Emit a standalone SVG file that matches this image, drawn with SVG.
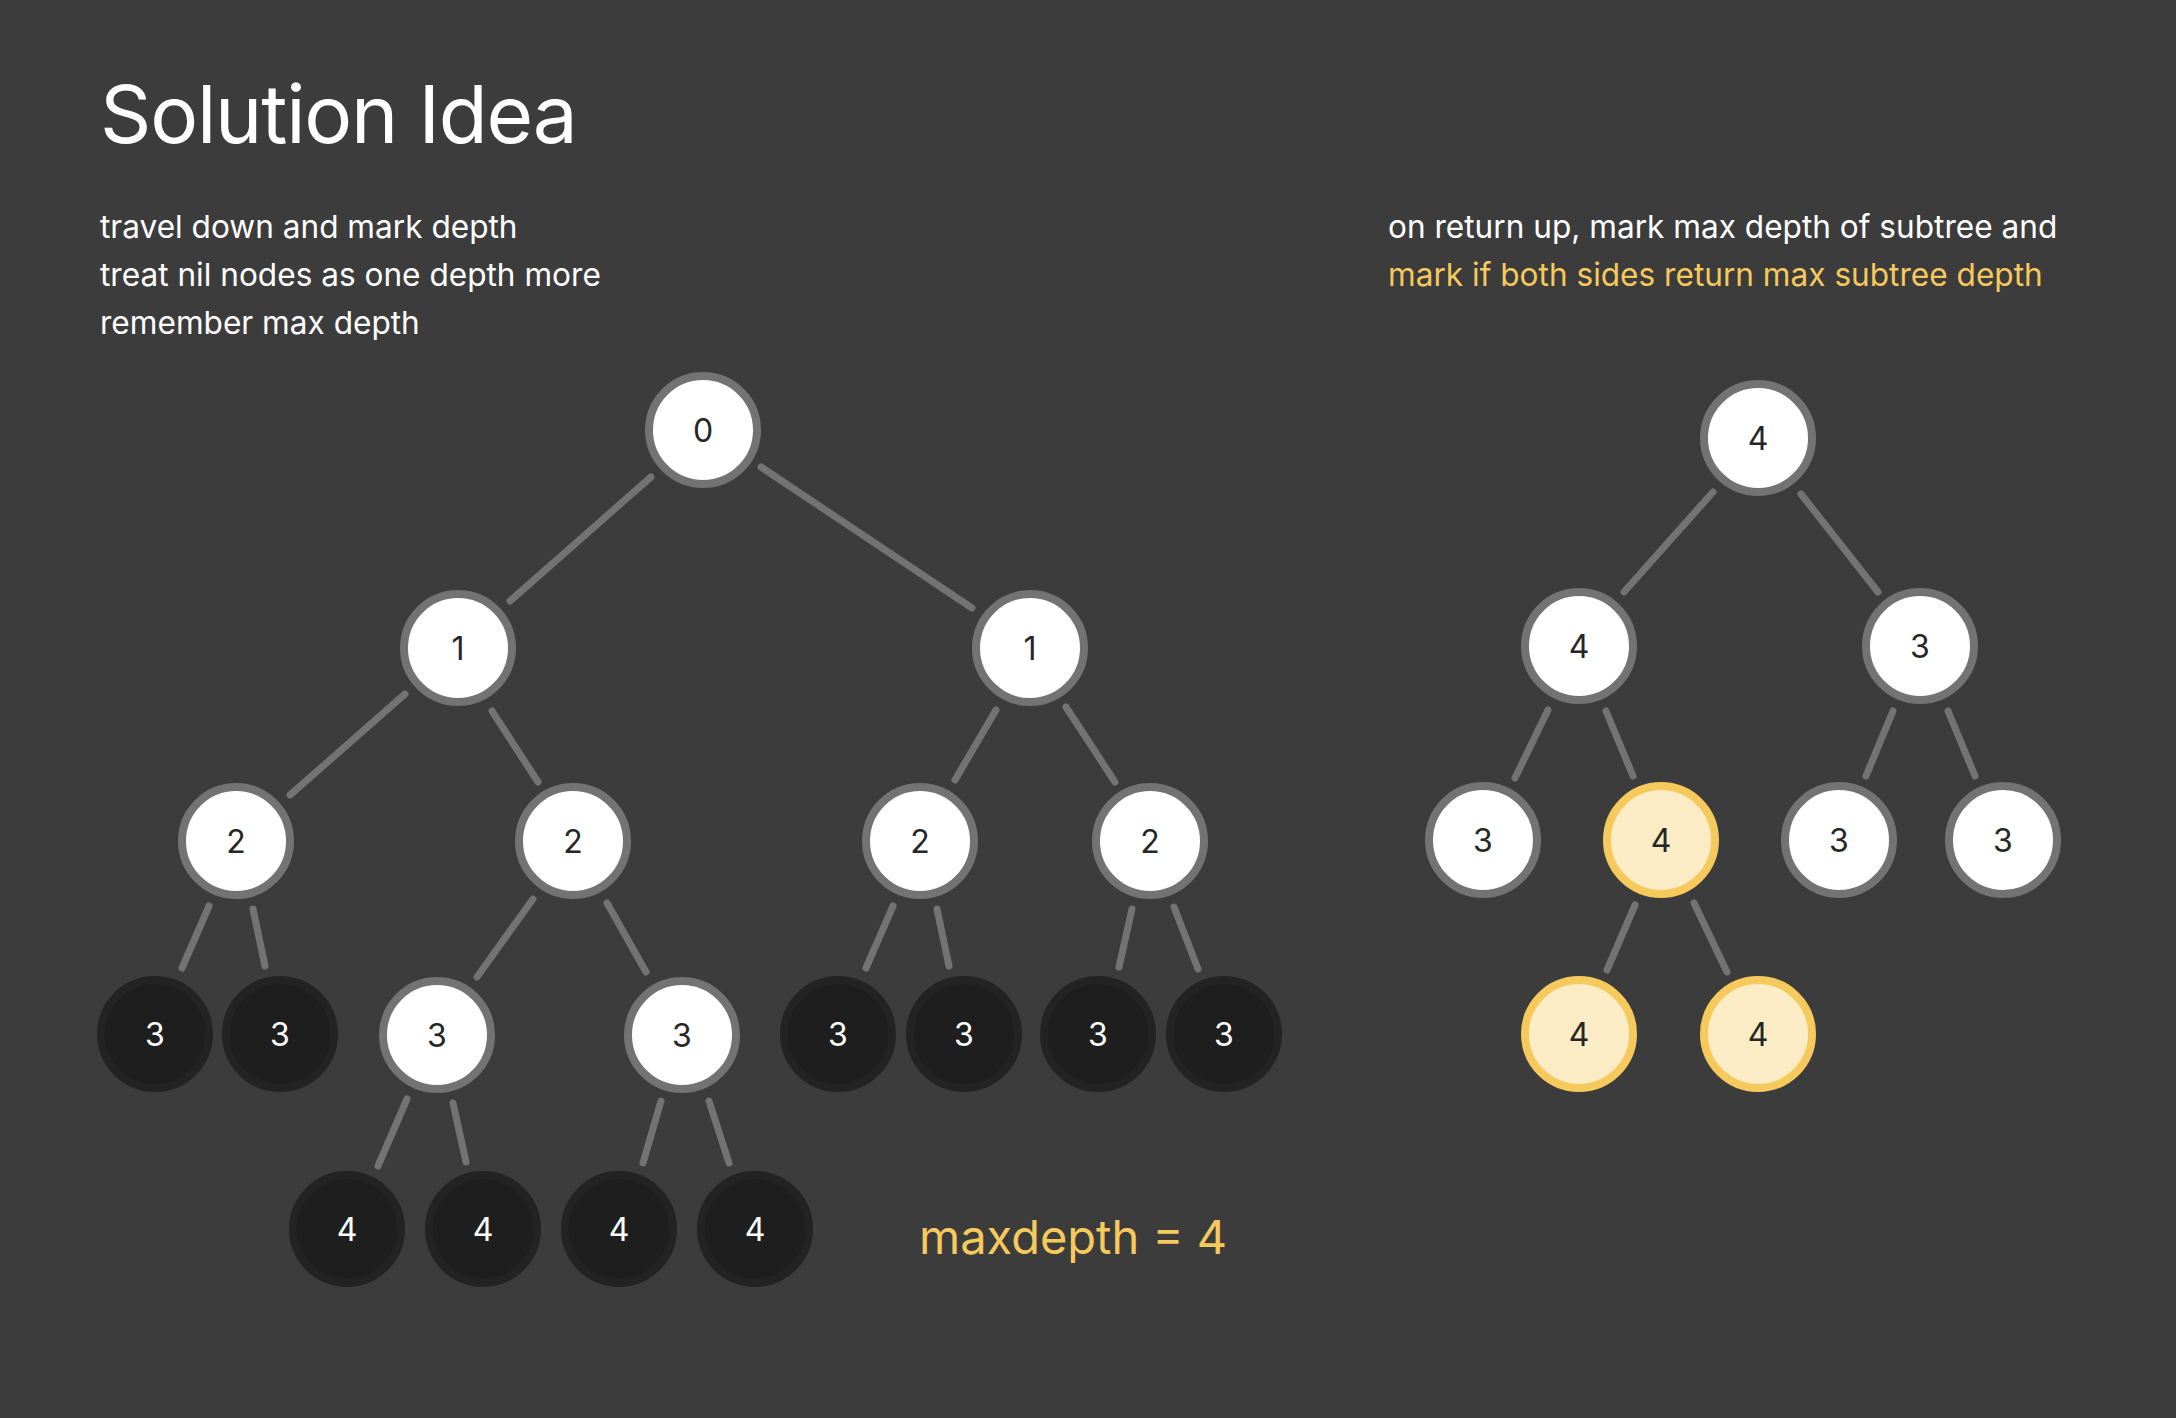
<svg xmlns="http://www.w3.org/2000/svg" width="2176" height="1418" viewBox="0 0 2176 1418">
<style>
.bg{fill:#3c3c3c}
.edge{stroke:#737373;stroke-width:7;stroke-linecap:round;fill:none}
.w circle{fill:#ffffff;stroke:#737373;stroke-width:8}
.d circle{fill:#1e1e1e;stroke:#232323;stroke-width:8}
.y circle{fill:#fbecc5;stroke:#f5c95c;stroke-width:8}
.w text,.y text{fill:#262626}
.d text{fill:#ffffff}
.n text{font-family:Inter,"Noto Sans",sans-serif;font-size:32px;text-anchor:middle;dominant-baseline:central}
.t{font-family:Inter,"Noto Sans",sans-serif;fill:#ffffff}
.g{fill:#f5c95c}
</style>
<rect class="bg" x="0" y="0" width="2176" height="1418"/>
<text class="t" x="100" y="143" font-size="80" letter-spacing="-1.2">Solution Idea</text>
<g class="t" font-size="31.6">
<text x="100" y="238">travel down and mark depth</text>
<text x="100" y="286">treat nil nodes as one depth more</text>
<text x="100" y="334">remember max depth</text>
</g>
<g class="t" font-size="31.6">
<text x="1388" y="238">on return up, mark max depth of subtree and</text>
<text x="1388" y="286" class="g">mark if both sides return max subtree depth</text>
</g>
<text class="t g" x="919" y="1254" font-size="47">maxdepth = 4</text>
<g id="connectors">
<line class="edge" x1="651" y1="477" x2="510" y2="601"/>
<line class="edge" x1="761" y1="467" x2="972" y2="608"/>
<line class="edge" x1="405" y1="694" x2="290" y2="795"/>
<line class="edge" x1="492" y1="711" x2="538" y2="782"/>
<line class="edge" x1="996" y1="710" x2="955" y2="780"/>
<line class="edge" x1="1066" y1="707" x2="1115" y2="782"/>
<line class="edge" x1="209" y1="906" x2="182" y2="968"/>
<line class="edge" x1="253" y1="909" x2="265" y2="966"/>
<line class="edge" x1="533" y1="899" x2="477" y2="977"/>
<line class="edge" x1="607" y1="903" x2="646" y2="972"/>
<line class="edge" x1="893" y1="906" x2="866" y2="968"/>
<line class="edge" x1="937" y1="909" x2="949" y2="966"/>
<line class="edge" x1="1132" y1="909" x2="1119" y2="967"/>
<line class="edge" x1="1174" y1="907" x2="1198" y2="969"/>
<line class="edge" x1="407" y1="1099" x2="378" y2="1166"/>
<line class="edge" x1="453" y1="1103" x2="466" y2="1162"/>
<line class="edge" x1="661" y1="1101" x2="643" y2="1163"/>
<line class="edge" x1="709" y1="1101" x2="729" y2="1163"/>
<line class="edge" x1="1713" y1="492" x2="1624" y2="592"/>
<line class="edge" x1="1801" y1="494" x2="1878" y2="592"/>
<line class="edge" x1="1548" y1="710" x2="1515" y2="778"/>
<line class="edge" x1="1606" y1="711" x2="1633" y2="776"/>
<line class="edge" x1="1893" y1="711" x2="1866" y2="776"/>
<line class="edge" x1="1948" y1="711" x2="1975" y2="776"/>
<line class="edge" x1="1635" y1="905" x2="1607" y2="970"/>
<line class="edge" x1="1694" y1="903" x2="1727" y2="972"/>
</g>
<g class="n">
<g id="n0" class="w"><circle cx="703" cy="430" r="54"/><text x="703" y="430">0</text></g>
<g id="n1a" class="w"><circle cx="458" cy="648" r="54"/><text x="458" y="648">1</text></g>
<g id="n1b" class="w"><circle cx="1030" cy="648" r="54"/><text x="1030" y="648">1</text></g>
<g id="n2a" class="w"><circle cx="236" cy="841" r="54"/><text x="236" y="841">2</text></g>
<g id="n2b" class="w"><circle cx="573" cy="841" r="54"/><text x="573" y="841">2</text></g>
<g id="n2c" class="w"><circle cx="920" cy="841" r="54"/><text x="920" y="841">2</text></g>
<g id="n2d" class="w"><circle cx="1150" cy="841" r="54"/><text x="1150" y="841">2</text></g>
<g id="n3a" class="d"><circle cx="155" cy="1034" r="54"/><text x="155" y="1034">3</text></g>
<g id="n3b" class="d"><circle cx="280" cy="1034" r="54"/><text x="280" y="1034">3</text></g>
<g id="n3c" class="w"><circle cx="437" cy="1035" r="54"/><text x="437" y="1035">3</text></g>
<g id="n3d" class="w"><circle cx="682" cy="1035" r="54"/><text x="682" y="1035">3</text></g>
<g id="n3e" class="d"><circle cx="838" cy="1034" r="54"/><text x="838" y="1034">3</text></g>
<g id="n3f" class="d"><circle cx="964" cy="1034" r="54"/><text x="964" y="1034">3</text></g>
<g id="n3g" class="d"><circle cx="1098" cy="1034" r="54"/><text x="1098" y="1034">3</text></g>
<g id="n3h" class="d"><circle cx="1224" cy="1034" r="54"/><text x="1224" y="1034">3</text></g>
<g id="n4a" class="d"><circle cx="347" cy="1229" r="54"/><text x="347" y="1229">4</text></g>
<g id="n4b" class="d"><circle cx="483" cy="1229" r="54"/><text x="483" y="1229">4</text></g>
<g id="n4c" class="d"><circle cx="619" cy="1229" r="54"/><text x="619" y="1229">4</text></g>
<g id="n4d" class="d"><circle cx="755" cy="1229" r="54"/><text x="755" y="1229">4</text></g>
<g id="r0" class="w"><circle cx="1758" cy="438" r="54"/><text x="1758" y="438">4</text></g>
<g id="r1a" class="w"><circle cx="1579" cy="646" r="54"/><text x="1579" y="646">4</text></g>
<g id="r1b" class="w"><circle cx="1920" cy="646" r="54"/><text x="1920" y="646">3</text></g>
<g id="r2a" class="w"><circle cx="1483" cy="840" r="54"/><text x="1483" y="840">3</text></g>
<g id="r2b" class="y"><circle cx="1661" cy="840" r="54"/><text x="1661" y="840">4</text></g>
<g id="r2c" class="w"><circle cx="1839" cy="840" r="54"/><text x="1839" y="840">3</text></g>
<g id="r2d" class="w"><circle cx="2003" cy="840" r="54"/><text x="2003" y="840">3</text></g>
<g id="r3a" class="y"><circle cx="1579" cy="1034" r="54"/><text x="1579" y="1034">4</text></g>
<g id="r3b" class="y"><circle cx="1758" cy="1034" r="54"/><text x="1758" y="1034">4</text></g>
</g>
</svg>
